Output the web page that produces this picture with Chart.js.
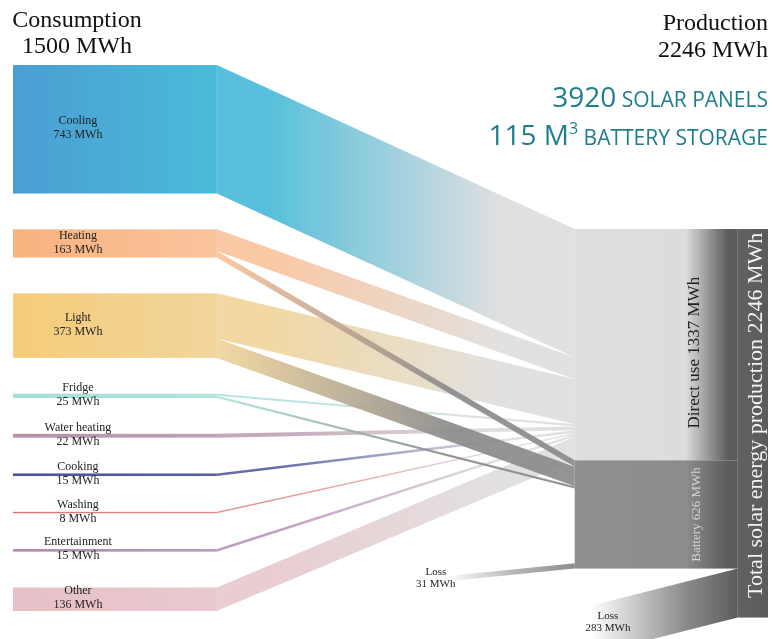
<!DOCTYPE html>
<html>
<head>
<meta charset="utf-8">
<title>Solar energy: consumption and production</title>
<script src="https://cdn.jsdelivr.net/npm/chart.js@4.4.0/dist/chart.umd.min.js"></script>
<style>
  html, body { margin: 0; padding: 0; background: #fff; }
  #wrap { position: relative; width: 773px; height: 639px; }
</style>
</head>
<body>
<div id="wrap"><canvas id="chart"></canvas></div>
<script>
// consumption per use, MWh
const uses = ["Cooling", "Heating", "Light", "Fridge", "Water heating", "Cooking", "Washing", "Entertainment", "Other"];
const useTotals = [743, 163, 373, 25, 22, 15, 8, 15, 136];
// how each use is covered: straight from the panels or out of the battery
const fromDirect = [743, 125, 261, 12, 22, 15, 8, 15, 136];
const fromBattery = [0, 38, 112, 13, 0, 0, 0, 0, 0];
const useColors = ["#4a9ed3", "#f8b27d", "#f5cc79", "#a5dfda", "#b68fa9", "#4c5296", "#df7372", "#b085b3", "#e8c0c7"];
const useColorsLight = ["#4bbbd9", "#fac49d", "#f1d59c", "#b2e3df", "#bea2b3", "#58609e", "#e48c89", "#bb97bc", "#e8c9cf"];

// production side, MWh
const directUse = 1337;
const battery = 626;
const batteryLoss = 31;
const productionLoss = 283;
const totalProduction = 2246;

// headline figures
const solarPanels = 3920;
const batteryVolume = 115;

// layout, y in MWh, x in percent of the plot width
const GAP = 207;          // white space between two consumption nodes
const RIGHT_TOP = 948;    // top of the production column
const LOSS31_DROP = 75;
const LOSS283_DROP = 215;
const col = {
  useL: 0, useR: 27, label: 8.6,
  prodL: 74.4, prodR: 96, barR: 100,
  loss31End: 57.2, loss31Label: 56.0,
  loss283End: 76.5, loss283Label: 78.8,
  directLabel: 90.3, totalLabel: 98.5
};

const GREY_DIRECT = "#dfdedd";
const GREY_BATTERY = "#8c8c8c";
const GREY_DARK = "#5c5c5c";
const TEAL = "#1d7f8b";
const SERIF = "'Liberation Serif', 'DejaVu Serif', serif";
const SANS = "'Open Sans', 'Lato', sans-serif";

function hGrad(ctx, xa, xb, stops) {
  const g = ctx.createLinearGradient(xa, 0, xb, 0);
  stops.forEach(s => g.addColorStop(s[0], s[1]));
  return g;
}

function band(ctx, x0, t0, b0, x1, t1, b1, fill) {
  ctx.beginPath();
  ctx.moveTo(x0, t0);
  ctx.lineTo(x1, t1);
  ctx.lineTo(x1, b1);
  ctx.lineTo(x0, b0);
  ctx.closePath();
  ctx.fillStyle = fill;
  ctx.fill();
}

function rotatedText(ctx, text, x, y, font, color) {
  ctx.save();
  ctx.translate(x, y);
  ctx.rotate(-Math.PI / 2);
  ctx.font = font;
  ctx.fillStyle = color;
  ctx.textAlign = "center";
  ctx.textBaseline = "middle";
  ctx.fillText(text, 0, 0);
  ctx.restore();
}

// right aligned line made of pieces with different sizes
function richLine(ctx, parts, right, baseline) {
  let w = 0;
  parts.forEach(p => { ctx.font = p.font; p.w = ctx.measureText(p.text).width; w += p.w; });
  let x = right - w;
  ctx.textAlign = "left";
  ctx.textBaseline = "alphabetic";
  parts.forEach(p => {
    ctx.font = p.font;
    ctx.fillText(p.text, x, baseline - (p.rise || 0));
    x += p.w;
  });
}

const sankey = {
  id: "sankey",
  afterDraw(chart) {
    const ctx = chart.ctx;
    const X = v => chart.scales.x.getPixelForValue(v);
    const Y = v => chart.scales.y.getPixelForValue(v);

    // stacked positions of every node and flow end
    const nodeTop = [];
    let acc = 0;
    useTotals.forEach(v => { nodeTop.push(acc); acc += v + GAP; });
    const directTop = [], batteryTop = [];
    let d = RIGHT_TOP, b = RIGHT_TOP + directUse;
    uses.forEach((u, i) => {
      directTop.push(d); d += fromDirect[i];
      batteryTop.push(b); b += fromBattery[i];
    });

    const x0 = X(col.useR), x1 = X(col.prodL);

    ctx.save();
    ctx.globalAlpha = 0.93;
    // flows going straight to use
    uses.forEach((u, i) => {
      const v = fromDirect[i];
      if (!v) return;
      const s = nodeTop[i];
      const fill = hGrad(ctx, x0, x1, [[0, useColorsLight[i]], [0.15, useColorsLight[i]], [0.8, GREY_DIRECT], [1, GREY_DIRECT]]);
      band(ctx, x0, Y(s), Y(s + v), x1, Y(directTop[i]), Y(directTop[i] + v), fill);
    });
    // flows coming out of the battery
    uses.forEach((u, i) => {
      const v = fromBattery[i];
      if (!v) return;
      const s = nodeTop[i] + fromDirect[i];
      const fill = hGrad(ctx, x0, x1, [[0, useColorsLight[i]], [0.65, GREY_BATTERY], [1, GREY_BATTERY]]);
      band(ctx, x0, Y(s), Y(s + v), x1, Y(batteryTop[i]), Y(batteryTop[i] + v), fill);
    });
    ctx.restore();

    // consumption nodes
    uses.forEach((u, i) => {
      ctx.fillStyle = hGrad(ctx, X(col.useL), x0, [[0, useColors[i]], [1, useColorsLight[i]]]);
      ctx.fillRect(X(col.useL), Y(nodeTop[i]), x0 - X(col.useL), Y(nodeTop[i] + useTotals[i]) - Y(nodeTop[i]));
    });

    // production column
    const xp = X(col.prodL), xr = X(col.prodR), xb = X(col.barR);
    const dTop = RIGHT_TOP, bTop = RIGHT_TOP + directUse, lTop = bTop + battery;
    ctx.fillStyle = hGrad(ctx, xp, xr, [[0, GREY_DIRECT], [0.68, "#dcdcdc"], [0.94, GREY_DARK], [1, GREY_DARK]]);
    ctx.fillRect(xp, Y(dTop), xr - xp, Y(bTop) - Y(dTop));
    ctx.fillStyle = hGrad(ctx, xp, xr, [[0, "#909090"], [0.68, "#8c8c8c"], [0.94, GREY_DARK], [1, GREY_DARK]]);
    ctx.fillRect(xp, Y(bTop), xr - xp, Y(lTop) - Y(bTop));
    ctx.fillStyle = hGrad(ctx, xr, xb, [[0, "#626262"], [1, "#5a5a5a"]]);
    ctx.fillRect(xr, Y(dTop), xb - xr, Y(dTop + totalProduction) - Y(dTop));

    // losses
    const l31 = lTop - batteryLoss;
    band(ctx, xp, Y(l31), Y(lTop), X(col.loss31End), Y(l31 + LOSS31_DROP), Y(lTop + LOSS31_DROP),
      hGrad(ctx, xp, X(col.loss31End), [[0, "#8e8e8e"], [0.45, "#b4b4b4"], [1, "#ffffff"]]));
    band(ctx, xr, Y(lTop), Y(lTop + productionLoss), X(col.loss283End), Y(lTop + LOSS283_DROP), Y(lTop + productionLoss + LOSS283_DROP),
      hGrad(ctx, xr, X(col.loss283End), [[0, GREY_DARK], [0.35, "#8a8a8a"], [1, "#ffffff"]]));

    // node labels
    ctx.fillStyle = "#222";
    ctx.font = "12px " + SERIF;
    ctx.textAlign = "center";
    ctx.textBaseline = "middle";
    uses.forEach((u, i) => {
      const c = Y(nodeTop[i] + useTotals[i] / 2) - 1;
      ctx.fillText(u, X(col.label), c - 7);
      ctx.fillText(useTotals[i] + " MWh", X(col.label), c + 7);
    });
    ctx.font = "11px " + SERIF;
    const c31 = Y(lTop + LOSS31_DROP) - 3;
    ctx.fillText("Loss", X(col.loss31Label), c31 - 6);
    ctx.fillText(batteryLoss + " MWh", X(col.loss31Label), c31 + 6);
    const c283 = Y(lTop + productionLoss / 2 + LOSS283_DROP) - 8;
    ctx.fillText("Loss", X(col.loss283Label), c283 - 6);
    ctx.fillText(productionLoss + " MWh", X(col.loss283Label), c283 + 6);

    rotatedText(ctx, "Direct use " + directUse + " MWh", X(col.directLabel), Y(dTop + directUse / 2) + 8, "17px " + SERIF, "#1e1e1e");
    rotatedText(ctx, "Battery " + battery + " MWh", X(col.directLabel) + 2, Y(bTop + battery / 2), "13px " + SERIF, "#d6d6d6");
    rotatedText(ctx, "Total solar energy production " + totalProduction + " MWh", X(col.totalLabel), Y(dTop + totalProduction / 2) - 8, "22px " + SERIF, "#f4f4f4");

    // headers
    const consumption = useTotals.reduce((a, v) => a + v, 0);
    ctx.fillStyle = "#111";
    ctx.font = "24px " + SERIF;
    ctx.textBaseline = "alphabetic";
    ctx.textAlign = "center";
    ctx.fillText("Consumption", 77, 27);
    ctx.fillText(consumption + " MWh", 77, 53);
    ctx.textAlign = "right";
    ctx.fillText("Production", chart.width - 5, 30);
    ctx.fillText(totalProduction + " MWh", chart.width - 5, 57);

    ctx.fillStyle = TEAL;
    richLine(ctx, [
      { text: String(solarPanels), font: "28px " + SANS },
      { text: " SOLAR PANELS", font: "21px " + SANS }
    ], chart.width - 5, 107);
    richLine(ctx, [
      { text: batteryVolume + " M", font: "28px " + SANS },
      { text: "3", font: "16px " + SANS, rise: 11 },
      { text: " BATTERY STORAGE", font: "21px " + SANS }
    ], chart.width - 5, 145);
  }
};

new Chart(document.getElementById("chart"), {
  type: "scatter",
  data: { datasets: [] },
  options: {
    responsive: true,
    maintainAspectRatio: false,
    animation: false,
    layout: { padding: { top: 65, left: 13, right: 5, bottom: 0 } },
    plugins: { legend: { display: false }, tooltip: { enabled: false } },
    scales: {
      x: { type: "linear", min: 0, max: 100, display: false },
      y: { type: "linear", min: 0, max: 3318, reverse: true, display: false }
    }
  },
  plugins: [sankey]
});
</script>
</body>
</html>
